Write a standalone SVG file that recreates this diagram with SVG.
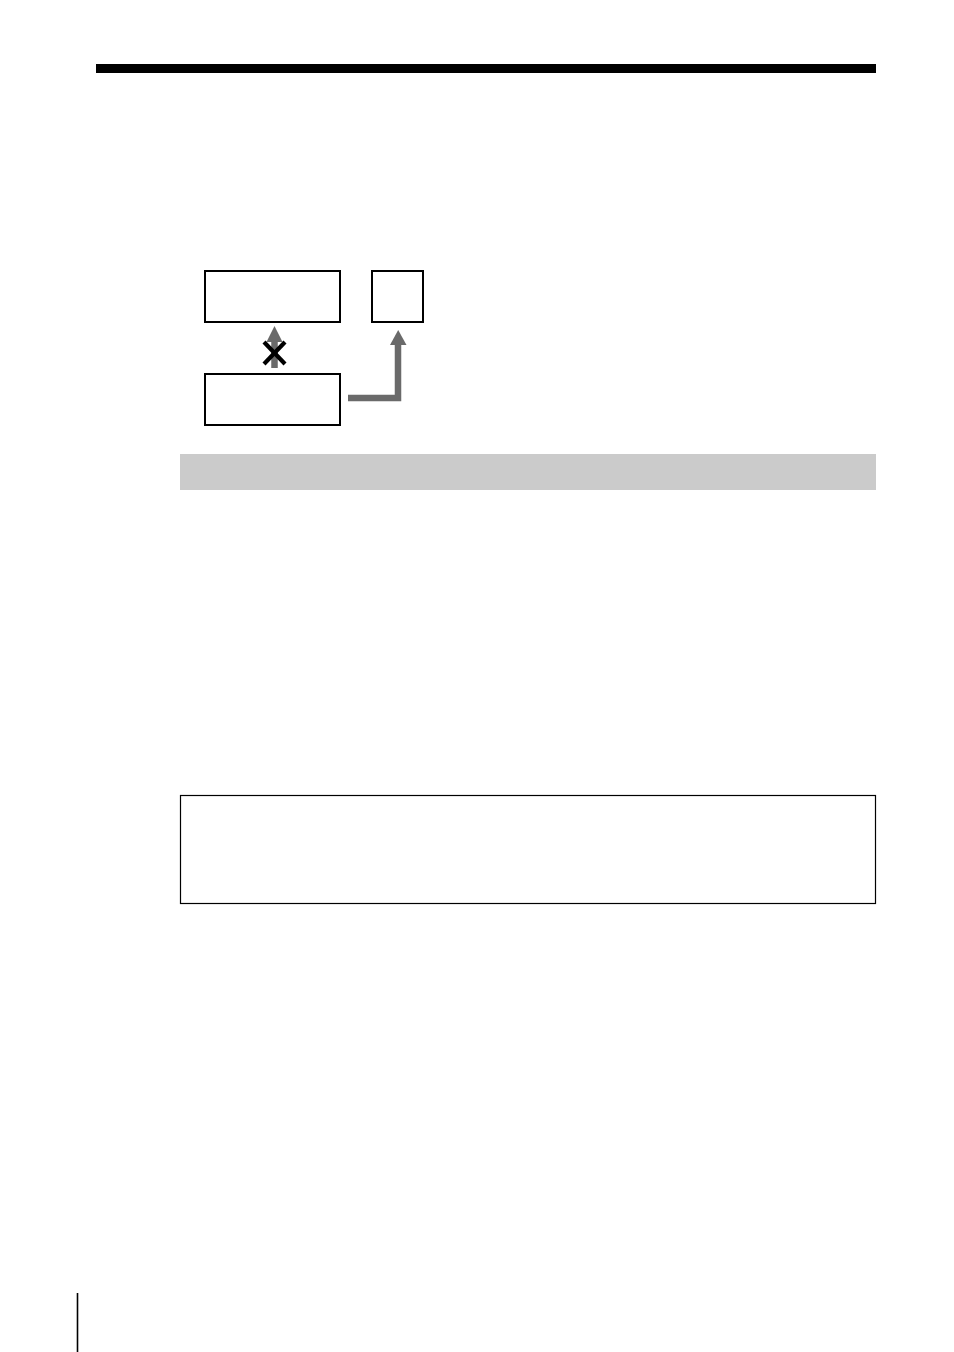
<svg xmlns="http://www.w3.org/2000/svg" width="954" height="1352" viewBox="0 0 954 1352">
<style>
.box{fill:#fff;stroke:#000;stroke-width:2}
.conn{fill:none;stroke:#6a6a6a;stroke-width:6.5}
.head{fill:#6a6a6a}
</style>
<rect width="954" height="1352" fill="#fff"/>
<rect id="topbar" x="96" y="64" width="780" height="9" fill="#000"/>
<g id="node-a"><rect class="box" x="205" y="271" width="135" height="51"/></g>
<g id="node-b"><rect class="box" x="372" y="271" width="51" height="51"/></g>
<g id="node-c"><rect class="box" x="205" y="374" width="135" height="51"/></g>
<g id="connectors">
<line class="conn" x1="274.5" y1="368" x2="274.5" y2="340"/>
<polygon class="head" points="266.5,342 282.5,342 274.5,326"/>
<polyline class="conn" points="348,398 398,398 398,343"/>
<polygon class="head" points="390,345 406.5,345 398.2,330"/>
<g id="cross" stroke="#000" stroke-width="4.2" stroke-linecap="butt">
<line x1="264" y1="342" x2="285" y2="364"/>
<line x1="285" y1="342" x2="264" y2="364"/>
</g>
</g>
<rect id="band" x="180" y="454" width="696" height="36" fill="#cbcbcb"/>
<g id="note"><rect x="180.5" y="795.5" width="695" height="108" fill="none" stroke="#000" stroke-width="1.2"/></g>
<line id="margin" x1="77.5" y1="1293" x2="77.5" y2="1352" stroke="#000" stroke-width="1.6"/>
</svg>
